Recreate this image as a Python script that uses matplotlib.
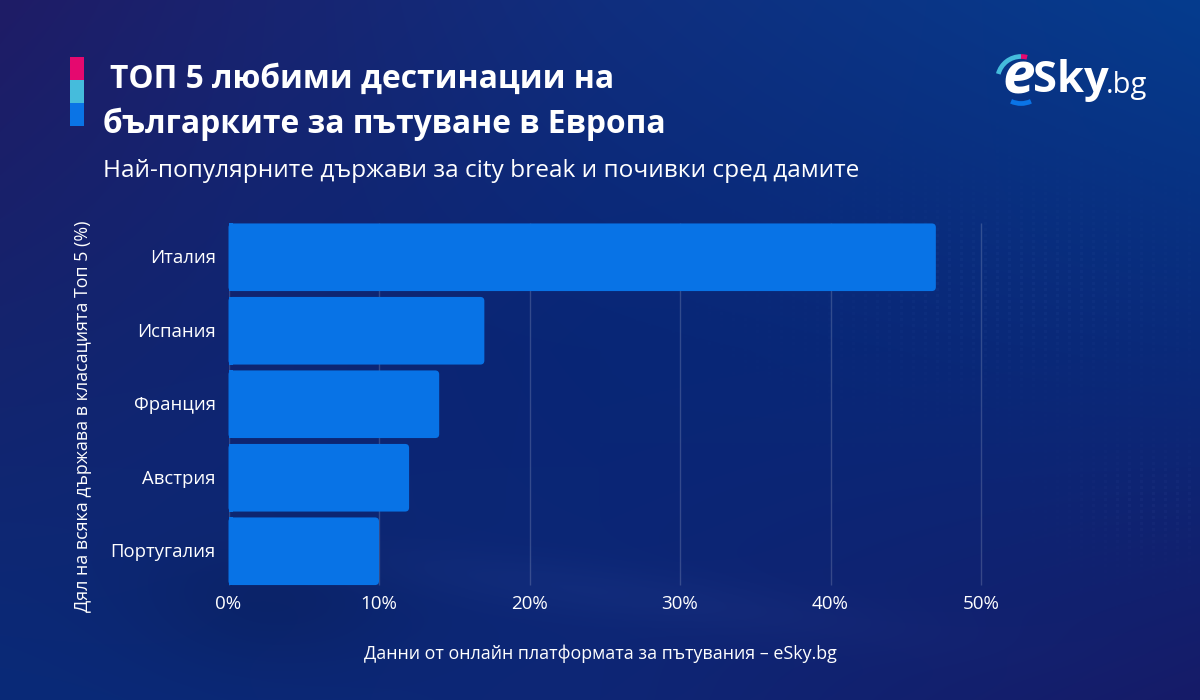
import numpy as np
import matplotlib
matplotlib.use("Agg")
import matplotlib.pyplot as plt
from matplotlib.patches import FancyBboxPatch, Rectangle, Arc
from matplotlib.transforms import ScaledTranslation

countries = ["Италия", "Испания", "Франция", "Австрия", "Португалия"]
shares = [47, 17, 14, 12, 10]
ticks = [0, 10, 20, 30, 40, 50]
tick_labels = ["0%", "10%", "20%", "30%", "40%", "50%"]
title1 = "ТОП 5 любими дестинации на"
title2 = "българките за пътуване в Европа"
subtitle = "Най-популярните държави за city break и почивки сред дамите"
ylabel = "Дял на всяка държава в класацията Топ 5 (%)"
source = "Данни от онлайн платформата за пътувания – eSky.bg"

plt.rcParams["font.family"] = ["Open Sans", "Noto Sans", "DejaVu Sans"]
W, H = 1200, 700
fig = plt.figure(figsize=(12, 7), dpi=100)

# background: smooth colour field over a 3x3 set of anchor colours
anchors = np.array([
    [[0x1f, 0x1c, 0x66], [0x10, 0x2e, 0x7e], [0x05, 0x3c, 0x8e]],
    [[0x14, 0x24, 0x6e], [0x08, 0x26, 0x76], [0x0a, 0x2a, 0x7a]],
    [[0x09, 0x2a, 0x78], [0x0e, 0x26, 0x75], [0x16, 0x1b, 0x68]],
], dtype=float) / 255
gy, gx = np.mgrid[0:1:(H * 1j), 0:1:(W * 1j)]
u = gx * 2
v = gy * 2
i = np.minimum(u.astype(int), 1)
j = np.minimum(v.astype(int), 1)
fu = (u - i)[..., None]
fv = (v - j)[..., None]
img = (anchors[j, i] * (1 - fu) * (1 - fv) + anchors[j, i + 1] * fu * (1 - fv)
       + anchors[j + 1, i] * (1 - fu) * fv + anchors[j + 1, i + 1] * fu * fv)

px, py = np.meshgrid(np.arange(W), np.arange(H))
# faint light streak and dark plane shape in the photo layer
streak = np.exp(-((py - (565 + 0.13 * (px - 400))) / 28.0) ** 2) * np.exp(-((px - 620) / 300.0) ** 2)
img = img + streak[..., None] * 0.02
plane = np.exp(-(((px - 270) / 130.0) ** 2 + ((py - 600) / 70.0) ** 2))
img = img * (1 - 0.10 * plane[..., None])
# faint dotted map on the right
dots = ((px % 12) < 3) & ((py % 6) < 3)
region = (np.exp(-(((px - 1010) / 170.0) ** 2 + ((py - 290) / 85.0) ** 2))
          + np.exp(-(((px - 1150) / 70.0) ** 2 + ((py - 500) / 50.0) ** 2)))
img = img + (dots * np.clip(region, 0, 1))[..., None] * 0.02
img = np.clip(img, 0, 1)

bg = fig.add_axes([0, 0, 1, 1], zorder=0)
bg.imshow(img, extent=[0, W, H, 0], aspect="auto", interpolation="nearest")
bg.set_xlim(0, W); bg.set_ylim(H, 0); bg.axis("off")

# title accent
for y0, c in zip([57, 80, 103], ["#E5096F", "#45BCDC", "#0A74E6"]):
    bg.add_patch(Rectangle((70, y0), 13.5, 22.5, fc=c, ec="none"))

bg.text(110, 79, title1, color="white", fontsize=22.85, fontweight="bold", va="center", ha="left")
bg.text(103, 124, title2, color="white", fontsize=22.85, fontweight="bold", va="center", ha="left")
bg.text(103, 171, subtitle, color="white", fontsize=17.55, va="center", ha="left")
bg.text(83, 416, ylabel, color="white", fontsize=12.9, rotation=90, va="center", ha="center")
bg.text(600, 654, source, color="white", fontsize=12.85, va="center", ha="center")

# logo
bg.text(1002, 78, "e", color="white", fontsize=42, fontweight="bold", va="center", ha="left", style="italic")
bg.text(1033, 80, "Sky", color="white", fontsize=31.3, fontweight="bold", va="center", ha="left")
bg.text(1106, 86, ".bg", color="white", fontsize=21, va="center", ha="left")
bg.add_patch(Arc((1021, 80), 47, 47, theta1=195, theta2=270, color="#45BCDC", lw=3.4))
bg.add_patch(Arc((1021, 80), 47, 47, theta1=270, theta2=285, color="#E5096F", lw=3.4))
bg.add_patch(Arc((1021, 80), 47, 47, theta1=65, theta2=115, color="#0A74E6", lw=3.4))

# chart
x0, x1, y0, y1 = 228.5, 1131.5, 220.5, 588
ax = fig.add_axes([x0 / W, 1 - y1 / H, (x1 - x0) / W, (y1 - y0) / H], zorder=1)
ax.patch.set_alpha(0)
ax.set_xlim(0, 60)
ax.set_ylim(len(countries) - 0.5, -0.5)
px_x = (x1 - x0) / 60
px_y = (y1 - y0) / len(countries)
rx = 4 / px_x
ry = 4 / px_y
h = 0.92
for k, val in enumerate(shares):
    ax.add_patch(FancyBboxPatch((0, k - h / 2), val, h,
                                boxstyle=f"round,pad=0,rounding_size={rx}",
                                mutation_aspect=ry / rx, fc="#0873E6", ec="none",
                                clip_on=False, zorder=3))
    ax.add_patch(Rectangle((0, k - h / 2), rx, h, fc="#0873E6", ec="none", zorder=3))
ax.set_yticks(range(len(countries)), countries)
ax.set_xticks(ticks, tick_labels)
ax.tick_params(axis="x", length=0, colors="white", labelsize=13.5, pad=5)
ax.tick_params(axis="y", length=0, colors="white", labelsize=13.3, pad=9)
for lab in ax.get_yticklabels():
    lab.set_transform(lab.get_transform() + ScaledTranslation(0, 1 / 100, fig.dpi_scale_trans))
ax.vlines(ticks, len(countries) - 1 + h / 2, -h / 2, color="white", alpha=0.17, lw=1, zorder=1)
for s in ["top", "right", "bottom", "left"]:
    ax.spines[s].set_visible(False)
fig.savefig("out.png", dpi=100)
